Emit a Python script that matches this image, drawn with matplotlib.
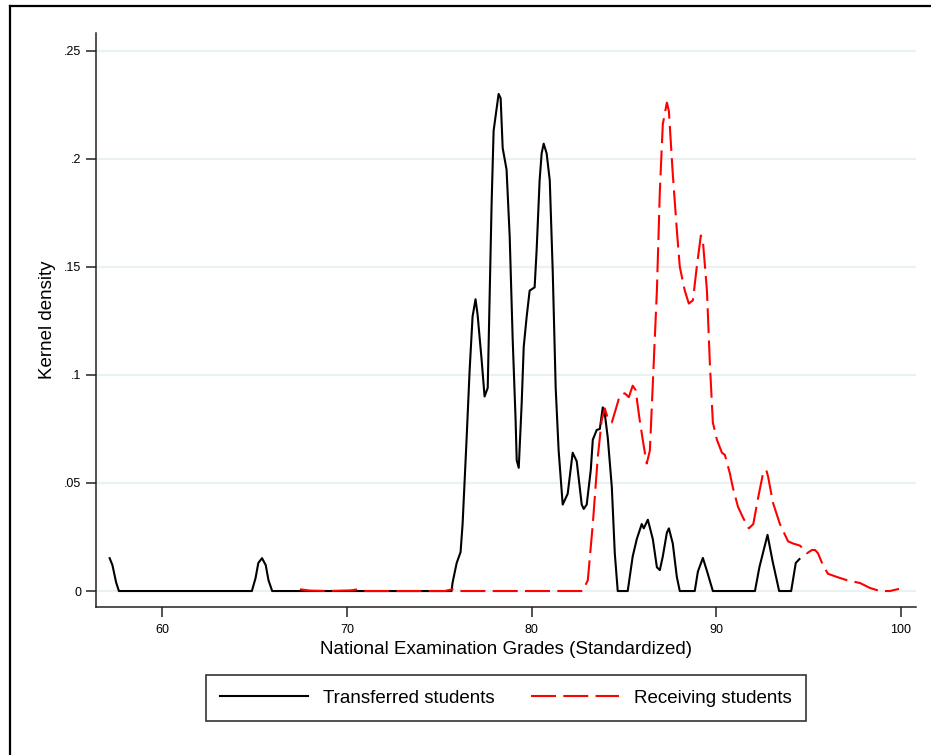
import matplotlib
matplotlib.use("Agg")
import matplotlib.pyplot as plt
from matplotlib.lines import Line2D

plt.rcParams["font.family"] = ["Liberation Sans", "DejaVu Sans"]

# kernel density, transferred students
trans_x = [57.15, 57.3, 57.5, 57.65, 64.85, 65.05, 65.2, 65.4, 65.6, 65.75, 65.95,
           75.66, 75.72, 75.94, 76.15, 76.26, 76.48, 76.64, 76.8, 76.96, 77.07,
           77.29, 77.45, 77.62, 77.83, 77.94, 78.21, 78.32, 78.43, 78.64, 78.81,
           78.97, 79.13, 79.19, 79.3, 79.46, 79.57, 79.73, 79.89, 80.16, 80.27,
           80.43, 80.54, 80.65, 80.81, 80.98, 81.14, 81.3, 81.46, 81.68, 81.95,
           82.22, 82.44, 82.71, 82.82, 82.98, 83.2, 83.31, 83.52, 83.69, 83.85,
           83.96, 84.12, 84.34, 84.5, 84.66, 85.2, 85.47, 85.69, 85.96, 86.07,
           86.29, 86.56, 86.78, 86.94, 87.1, 87.32, 87.43, 87.64, 87.86, 88.02,
           88.83, 89.0, 89.27, 89.5, 89.81, 92.09, 92.33, 92.77, 93.04, 93.4,
           94.05, 94.3, 94.5]
trans_y = [0.0152, 0.012, 0.004, 0.0, 0.0, 0.006, 0.013, 0.0152, 0.012, 0.005, 0.0,
           0.0, 0.004, 0.013, 0.018, 0.031, 0.071, 0.102, 0.127, 0.135, 0.128,
           0.107, 0.090, 0.094, 0.179, 0.213, 0.230, 0.228, 0.205, 0.195, 0.164,
           0.117, 0.079, 0.0605, 0.057, 0.087, 0.113, 0.127, 0.139, 0.1405, 0.158,
           0.190, 0.2025, 0.207, 0.2025, 0.190, 0.148, 0.094, 0.065, 0.040, 0.045,
           0.064, 0.060, 0.040, 0.038, 0.040, 0.056, 0.070, 0.0745, 0.075, 0.085,
           0.082, 0.071, 0.048, 0.0175, 0.0, 0.0, 0.016, 0.024, 0.031, 0.029,
           0.033, 0.024, 0.011, 0.0097, 0.016, 0.027, 0.029, 0.022, 0.0065, 0.0,
           0.0, 0.009, 0.0153, 0.009, 0.0, 0.0, 0.011, 0.026, 0.014, 0.0,
           0.0, 0.013, 0.0148]

# kernel density, receiving students
recv_x = [67.45, 68.0, 69.0, 70.2, 70.6, 71.0, 75.3, 75.8, 76.2, 82.76, 83.04,
          83.31, 83.58, 83.79, 83.96, 84.12, 84.34, 84.55, 84.77, 85.04, 85.26,
          85.47, 85.63, 85.85, 86.07, 86.23, 86.4, 86.56, 86.78, 86.94, 87.1,
          87.32, 87.43, 87.64, 87.86, 88.02, 88.29, 88.51, 88.73, 88.94, 89.16,
          89.27, 89.49, 89.65, 89.81, 90.03, 90.3, 90.46, 90.73, 90.89, 91.17,
          91.44, 91.76, 92.0, 92.27, 92.54, 92.7, 92.8, 93.06, 93.44, 93.88,
          94.15, 94.53, 94.91, 95.18, 95.34, 95.5, 95.77, 96.04, 96.53, 97.07,
          97.78, 98.32, 98.86, 99.4, 99.89]
recv_y = [0.0008, 0.0002, 0.0, 0.0003, 0.0008, 0.0, 0.0, 0.001, 0.0, 0.0, 0.005,
          0.031, 0.062, 0.079, 0.0845, 0.080, 0.078, 0.084, 0.0905, 0.0915, 0.0897,
          0.095, 0.093, 0.079, 0.067, 0.059, 0.065, 0.096, 0.139, 0.185, 0.216,
          0.226, 0.222, 0.193, 0.167, 0.150, 0.139, 0.133, 0.1345, 0.150, 0.1645,
          0.162, 0.139, 0.105, 0.078, 0.070, 0.064, 0.063, 0.0545, 0.048, 0.039,
          0.034, 0.029, 0.031, 0.0435, 0.055, 0.056, 0.053, 0.041, 0.031, 0.023,
          0.022, 0.021, 0.0175, 0.019, 0.019, 0.0175, 0.012, 0.008, 0.0065, 0.005,
          0.0037, 0.0014, 0.0, 0.0, 0.001]

x_ticks = [60, 70, 80, 90, 100]
y_ticks = [0, 0.05, 0.1, 0.15, 0.2, 0.25]
y_labels = ["0", ".05", ".1", ".15", ".2", ".25"]

fig = plt.figure(figsize=(9.31, 7.55), dpi=100)
ax = fig.add_axes([0.1031, 0.196, 0.8808, 0.7603])

ax.plot(trans_x, trans_y, color="black", lw=1.5, label="Transferred students")
ax.plot(recv_x, recv_y, color="red", lw=1.5, linestyle=(0, (12, 3.5)),
        label="Receiving students")

ax.set_xlim(56.41, 100.81)
ax.set_ylim(-0.0074, 0.2582)
ax.set_xticks(x_ticks)
ax.set_yticks(y_ticks)
ax.set_yticklabels(y_labels)
ax.tick_params(axis="both", direction="out", length=7, width=1.1, color="#222222",
               labelsize=9)
ax.tick_params(axis="y", pad=3.5)
ax.tick_params(axis="x", pad=5)

ax.grid(axis="y", color="#eaf1f3", lw=1.6)
ax.set_axisbelow(True)
for s in ["top", "right"]:
    ax.spines[s].set_visible(False)
for s in ["left", "bottom"]:
    ax.spines[s].set_color("#222222")
    ax.spines[s].set_linewidth(1.1)

ax.set_xlabel("National Examination Grades (Standardized)", fontsize=13.5, labelpad=4)
ax.set_ylabel("Kernel density", fontsize=13.5, labelpad=6)

leg = fig.legend(loc="center", bbox_to_anchor=(0.5435, 0.0755), ncol=2,
                 fontsize=13.5, frameon=True, fancybox=False, edgecolor="black",
                 handlelength=4.7, handletextpad=0.8, columnspacing=1.9,
                 borderpad=0.75)
leg.get_frame().set_linewidth(1.2)

# outer graph border (cropped on right and bottom)
fig.add_artist(Line2D([10 / 931, 10 / 931], [0, 1 - 6 / 755], color="black", lw=1.6,
                      transform=fig.transFigure))
fig.add_artist(Line2D([10 / 931, 1], [1 - 6 / 755, 1 - 6 / 755], color="black", lw=1.6,
                      transform=fig.transFigure))

fig.savefig("out.png", dpi=100)
